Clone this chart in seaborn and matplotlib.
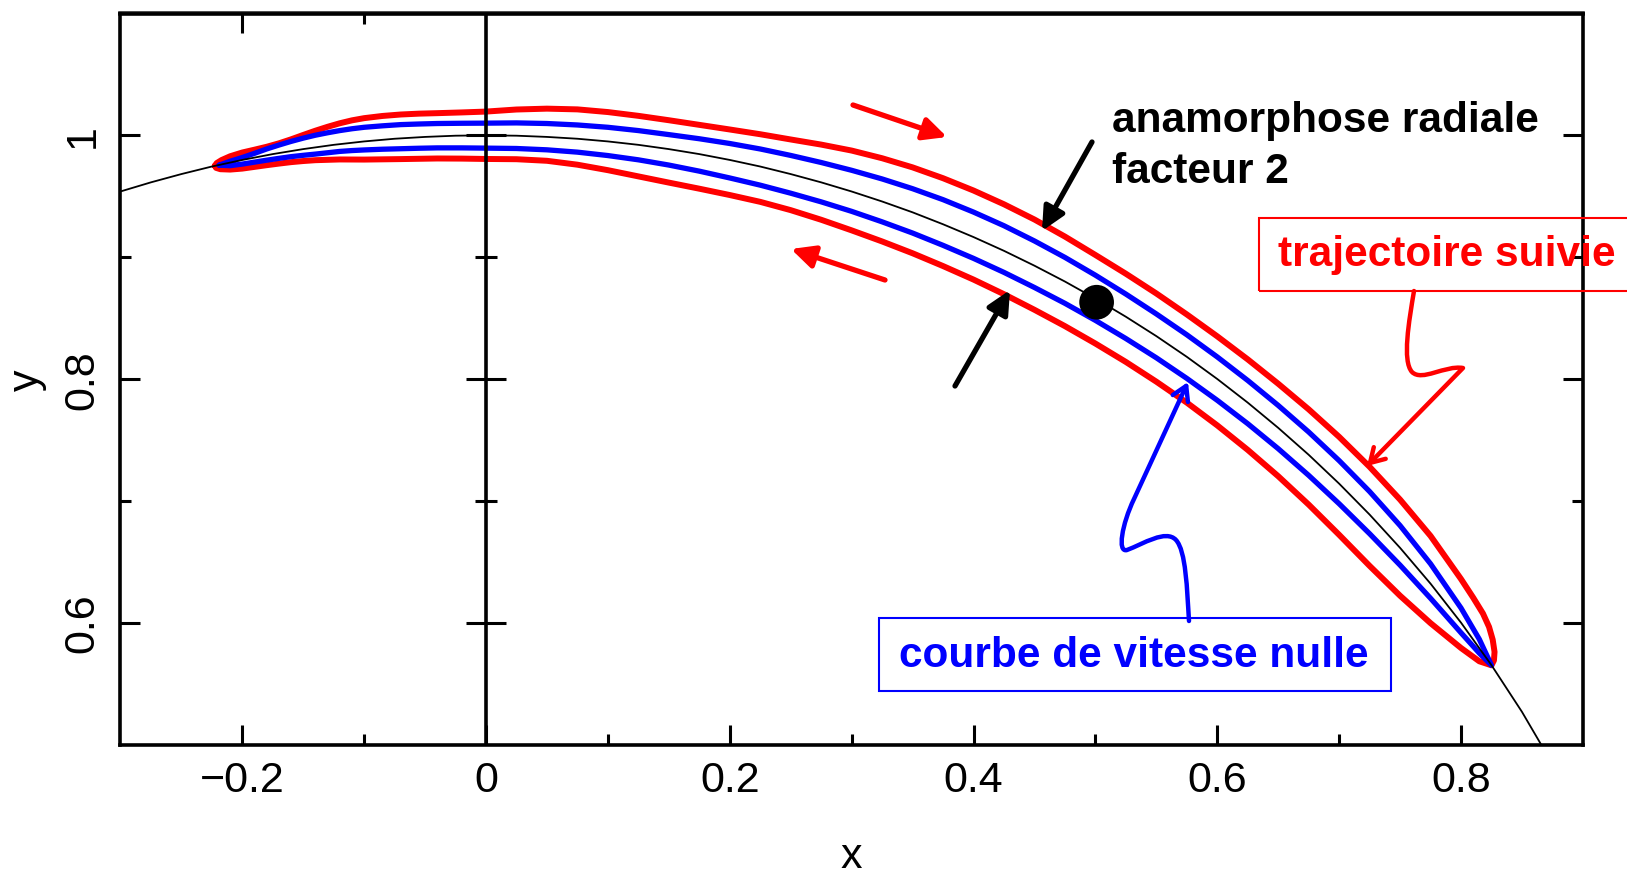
import matplotlib
matplotlib.use("Agg")
import matplotlib.pyplot as plt
import seaborn as sns
from matplotlib.patches import Rectangle, FancyArrowPatch
from matplotlib.path import Path
from matplotlib.ticker import FixedLocator

# ---------------- data ----------------
# thin black reference curve
circle_x = [-0.3, -0.275, -0.25, -0.225, -0.2, -0.175, -0.15, -0.125, -0.1, -0.075, -0.05, -0.025,
            0, 0.025, 0.05, 0.075, 0.1, 0.125, 0.15, 0.175, 0.2, 0.225, 0.25, 0.275, 0.3, 0.325,
            0.35, 0.375, 0.4, 0.425, 0.45, 0.475, 0.5, 0.525, 0.55, 0.575, 0.6, 0.625, 0.65, 0.675,
            0.7, 0.725, 0.75, 0.775, 0.8, 0.825, 0.85, 0.875]
circle_y = [0.9539, 0.9614, 0.9682, 0.9744, 0.9798, 0.9846, 0.9887, 0.9922, 0.9950, 0.9972, 0.9987, 0.9997,
            1.0, 0.9997, 0.9987, 0.9972, 0.9950, 0.9922, 0.9887, 0.9846, 0.9798, 0.9744, 0.9682, 0.9614,
            0.9539, 0.9457, 0.9368, 0.9270, 0.9165, 0.9052, 0.8930, 0.8800, 0.8660, 0.8511, 0.8352, 0.8182,
            0.8, 0.7806, 0.7599, 0.7378, 0.7141, 0.6887, 0.6614, 0.6320, 0.6, 0.5651, 0.5268, 0.4841]

# red trajectory: outer side, then inner side
red_upper_x = [-0.2225, -0.221, -0.217, -0.21, -0.2, -0.19, -0.18, -0.17, -0.16, -0.15, -0.14, -0.13,
               -0.12, -0.11, -0.1, -0.085, -0.07, -0.055, -0.04, -0.02,
               0, 0.025, 0.05, 0.075, 0.1, 0.125, 0.15, 0.175, 0.2, 0.225, 0.25, 0.275, 0.3, 0.325,
               0.35, 0.375, 0.4, 0.425, 0.45, 0.475, 0.5, 0.525, 0.55, 0.575, 0.6, 0.625, 0.65, 0.675,
               0.7, 0.725, 0.75, 0.775, 0.8,
               0.81, 0.818, 0.823, 0.826, 0.8275, 0.827, 0.825]
red_upper_y = [0.975, 0.9772, 0.9797, 0.9828, 0.9859, 0.9882, 0.9906, 0.9934, 0.9967, 1.0003, 1.0038, 1.0070,
               1.0099, 1.0123, 1.0141, 1.0159, 1.0171, 1.0178, 1.0182, 1.0188,
               1.0195, 1.0212, 1.0219, 1.0213, 1.0191, 1.0160, 1.0124, 1.0086, 1.0048, 1.0009, 0.9966,
               0.9924, 0.9875, 0.9812, 0.9737, 0.9648, 0.9547, 0.9434, 0.9309, 0.9169, 0.9018, 0.8864,
               0.8702, 0.8530, 0.8350, 0.8161, 0.7961, 0.7751, 0.7525, 0.7279, 0.7010, 0.6712, 0.6358,
               0.6205, 0.6075, 0.5965, 0.5860, 0.5760, 0.5690, 0.565]
red_lower_x = [-0.2225, -0.2215, -0.218, -0.21, -0.2, -0.19, -0.18, -0.17, -0.16, -0.15, -0.14, -0.12,
               -0.1, -0.07, -0.04, -0.02,
               0, 0.025, 0.05, 0.075, 0.1, 0.125, 0.15, 0.175, 0.2, 0.225, 0.25, 0.275, 0.3, 0.325,
               0.35, 0.375, 0.4, 0.425, 0.45, 0.475, 0.5, 0.525, 0.55, 0.575, 0.6, 0.625, 0.65, 0.675,
               0.7, 0.725, 0.75, 0.775, 0.8,
               0.815, 0.825]
red_lower_y = [0.975, 0.9733, 0.9722, 0.9719, 0.9727, 0.9741, 0.9755, 0.9768, 0.9780, 0.9789, 0.9796, 0.9802,
               0.9801, 0.9805, 0.9810, 0.9809,
               0.9806, 0.9804, 0.9791, 0.9759, 0.9714, 0.9663, 0.9612, 0.9562, 0.9510, 0.9454, 0.9386,
               0.9307, 0.9220, 0.9129, 0.9032, 0.8927, 0.8816, 0.8696, 0.8568, 0.8434, 0.8291, 0.8140,
               0.7978, 0.7806, 0.7619, 0.7418, 0.7202, 0.6969, 0.6721, 0.6466, 0.6221, 0.5996, 0.5792,
               0.5683, 0.565]

# blue zero-velocity curve
blue_x = [-0.219, -0.21, -0.2, -0.19, -0.18, -0.17, -0.16, -0.15, -0.14, -0.13, -0.12, -0.11, -0.1,
          -0.085, -0.07, -0.055, -0.04, -0.02,
          0, 0.025, 0.05, 0.075, 0.1, 0.125, 0.15, 0.175, 0.2, 0.225, 0.25, 0.275, 0.3, 0.325,
          0.35, 0.375, 0.4, 0.425, 0.45, 0.475, 0.5, 0.525, 0.55, 0.575, 0.6, 0.625, 0.65, 0.675,
          0.7, 0.725, 0.75, 0.775, 0.8,
          0.815, 0.825]
blue_upper_y = [0.9755, 0.9787, 0.9818, 0.9852, 0.9888, 0.9920, 0.9950, 0.9977, 1.0001, 1.0021, 1.0039,
                1.0054, 1.0066, 1.0078, 1.0088, 1.0093, 1.0097, 1.0099,
                1.0100, 1.0102, 1.0097, 1.0085, 1.0066, 1.0039, 1.0006, 0.9972, 0.9933, 0.9888, 0.9835,
                0.9777, 0.9713, 0.9642, 0.9562, 0.9472, 0.9370, 0.9258, 0.9133, 0.8998, 0.8852, 0.8697,
                0.8534, 0.8363, 0.8181, 0.7988, 0.7783, 0.7565, 0.7330, 0.7076, 0.6797, 0.6483, 0.6120,
                0.5864, 0.565]
blue_lower_y = [0.9755, 0.9751, 0.9764, 0.9780, 0.9796, 0.9811, 0.9825, 0.9836, 0.9846, 0.9857, 0.9868,
                0.9875, 0.9880, 0.9886, 0.9890, 0.9894, 0.9897, 0.9897,
                0.9895, 0.9892, 0.9881, 0.9862, 0.9834, 0.9799, 0.9756, 0.9706, 0.9650, 0.9591, 0.9525,
                0.9454, 0.9376, 0.9290, 0.9198, 0.9097, 0.8990, 0.8875, 0.8751, 0.8621, 0.8481, 0.8332,
                0.8174, 0.8005, 0.7825, 0.7633, 0.7428, 0.7209, 0.6976, 0.6730, 0.6472, 0.6200, 0.5917,
                0.5750, 0.565]

# body on the orbit
dot_x = [0.501]
dot_y = [0.863]

# axes
x_major = [-0.2, 0, 0.2, 0.4, 0.6, 0.8]
x_major_labels = ["\u22120.2", "0", "0.2", "0.4", "0.6", "0.8"]
x_minor = [-0.1, 0.1, 0.3, 0.5, 0.7]
top_major = [-0.2]
top_minor = [-0.1]
y_major = [0.6, 0.8, 1.0]
y_major_labels = ["0.6", "0.8", "1"]
y_minor = [0.7, 0.9]
x_label = "x"
y_label = "y"

label_curve = "anamorphose radiale"
label_factor = "facteur 2"
label_traj = "trajectoire suivie"
label_zero = "courbe de vitesse nulle"

# ---------------- figure ----------------
sns.set_theme(style="ticks")
plt.rcParams["font.family"] = ["Liberation Sans", "DejaVu Sans"]

W, H = 1627, 879
fig = plt.figure(figsize=(W / 100, H / 100), dpi=100)
fig.patch.set_facecolor("white")
ax = fig.add_axes([120.4 / W, 1 - 745.5 / H, 1462.5 / W, 731 / H])
ax.set_facecolor("white")


def fx(px):
    return px / W


def fy(py):
    return 1 - py / H


RED = "#ff0000"
BLUE = "#0000ff"

sns.lineplot(x=red_upper_x + red_lower_x[::-1], y=red_upper_y + red_lower_y[::-1],
             sort=False, estimator=None, color=RED, lw=4.3, ax=ax, zorder=3,
             solid_joinstyle="round", solid_capstyle="round")
sns.lineplot(x=blue_x + blue_x[::-1], y=blue_upper_y + blue_lower_y[::-1],
             sort=False, estimator=None, color=BLUE, lw=3.8, ax=ax, zorder=4,
             solid_joinstyle="round", solid_capstyle="round")
sns.lineplot(x=circle_x, y=circle_y, sort=False, estimator=None, color="black", lw=1.3,
             ax=ax, zorder=5)
sns.scatterplot(x=dot_x, y=dot_y, s=25 ** 2, color="black", edgecolor="none", ax=ax, zorder=8)

ax.set_xlim(-0.3, 0.9)
ax.set_ylim(0.5, 1.1)

# vertical line at x = 0 with crossing ticks
ax.axvline(0, color="black", lw=2.6, zorder=6)
ax.plot([0] * len(y_major), y_major, ls="none", marker="_", ms=28.8, mew=2.2, color="black", zorder=6)
ax.plot([0] * len(y_minor), y_minor, ls="none", marker="_", ms=15.8, mew=2.2, color="black", zorder=6)

ax.set_xticks(x_major, labels=x_major_labels)
ax.set_yticks(y_major, labels=y_major_labels)
ax.xaxis.set_minor_locator(FixedLocator(x_minor))
ax.yaxis.set_minor_locator(FixedLocator(y_minor))
ax.tick_params(which="both", direction="in", top=False, right=True, width=2.2, color="black",
               labelsize=31, labelcolor="black")
ax.tick_params(axis="x", pad=11)
ax.tick_params(axis="y", pad=13)
ax.tick_params(which="major", length=14.4)
ax.tick_params(which="minor", length=8)
for lab in ax.get_yticklabels():
    lab.set_rotation(90)
    lab.set_va("center")
for sp in ax.spines.values():
    sp.set_linewidth(2.6)
    sp.set_color("black")
    sp.set_zorder(7)

# top ticks only on the left panel
sec = ax.secondary_xaxis("top")
sec.set_xticks(top_major, labels=[""])
sec.xaxis.set_minor_locator(FixedLocator(top_minor))
sec.tick_params(which="both", direction="in", width=2.2, color="black", labeltop=False)
sec.tick_params(which="major", length=14.4)
sec.tick_params(which="minor", length=8)
sec.spines["top"].set_linewidth(2.6)

ax.set_xlabel(x_label, fontsize=31, color="black")
ax.set_ylabel(y_label, fontsize=31, color="black")
ax.xaxis.set_label_coords(0.5, -0.125)
ax.yaxis.set_label_coords(-0.050, 0.5)

# ---------------- annotations ----------------
fig.text(fx(1112), fy(132), label_curve, fontsize=30.5, fontweight="bold", color="black",
         ha="left", va="baseline")
fig.text(fx(1112), fy(183), label_factor, fontsize=30.5, fontweight="bold", color="black",
         ha="left", va="baseline")

fig.add_artist(Rectangle((fx(1258.6), fy(291.6)), (1700 - 1258.6) / W, 72.6 / H,
                         transform=fig.transFigure, fill=False, ec=RED, lw=1.5))
fig.text(fx(1278), fy(255.3), label_traj, fontsize=30.5, fontweight="bold", color=RED,
         ha="left", va="center")

fig.add_artist(Rectangle((fx(879), fy(692)), (1391.4 - 879) / W, 72.6 / H,
                         transform=fig.transFigure, fill=False, ec=BLUE, lw=1.5))
fig.text(fx(898.6), fy(655.7), label_zero, fontsize=30.5, fontweight="bold", color=BLUE,
         ha="left", va="center")


def straight_arrow(p0, p1, color):
    fig.add_artist(FancyArrowPatch((fx(p0[0]), fy(p0[1])), (fx(p1[0]), fy(p1[1])),
                                   transform=fig.transFigure,
                                   arrowstyle="-|>,head_length=0.7,head_width=0.34",
                                   mutation_scale=20, lw=3.8, color=color,
                                   shrinkA=0, shrinkB=0))


straight_arrow((853, 106), (947, 138), RED)
straight_arrow((885, 281), (791, 250), RED)
straight_arrow((1092, 143), (1042, 232), "black")
straight_arrow((955, 387), (1010, 291), "black")


def wavy_arrow(pts, codes, color):
    verts = [(fx(a), fy(b)) for a, b in pts]
    fig.add_artist(FancyArrowPatch(path=Path(verts, codes), transform=fig.transFigure,
                                   arrowstyle="->,head_length=0.5,head_width=0.3",
                                   mutation_scale=20, lw=3.2, color=color))


C4 = Path.CURVE4
wavy_arrow([(1414, 292), (1409, 322), (1402, 362), (1412, 373),
            (1422, 383), (1445, 366), (1463, 369), (1367, 467)],
           [Path.MOVETO, C4, C4, C4, C4, C4, C4, Path.LINETO], RED)
wavy_arrow([(1189, 622), (1187, 590), (1186, 552), (1176, 541),
            (1166, 530), (1143, 545), (1127, 551),
            (1117, 554), (1122, 525), (1134, 500), (1188, 383)],
           [Path.MOVETO, C4, C4, C4, C4, C4, C4, C4, C4, C4, Path.LINETO], BLUE)

fig.savefig("out.png", dpi=100, facecolor="white")
